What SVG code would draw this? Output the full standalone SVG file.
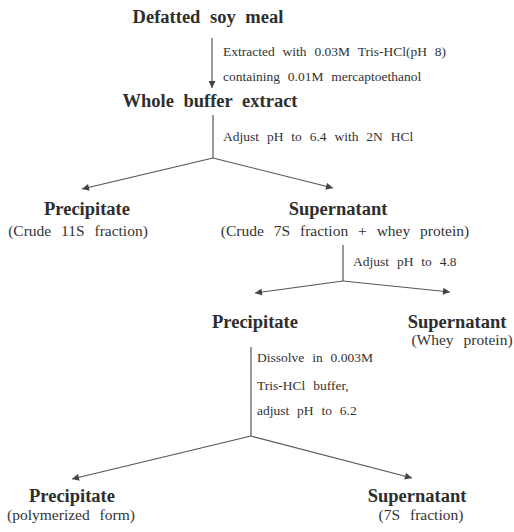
<svg xmlns="http://www.w3.org/2000/svg" width="514" height="532" viewBox="0 0 514 532">
<style>
.t{font-family:"Liberation Serif","Times New Roman",serif;font-weight:bold;font-size:18.5px;fill:#2e2e2e;text-anchor:middle;word-spacing:5px}
.s{font-family:"Liberation Serif","Times New Roman",serif;font-size:13.5px;fill:#333;word-spacing:4.5px}
.sub{font-family:"Liberation Serif","Times New Roman",serif;font-size:15.5px;fill:#333;word-spacing:6px;text-anchor:middle}
.c{stroke:#555;stroke-width:1.2;fill:none}
</style>
<defs>
<marker id="ah" viewBox="0 0 10 10" refX="10" refY="5" markerWidth="9" markerHeight="7" markerUnits="userSpaceOnUse" orient="auto">
<path d="M0,0 L10,5 L0,10 z" fill="#444"/>
</marker>
</defs>
<rect width="514" height="532" fill="#fff"/>
<g id="connectors">
<line class="c" x1="212" y1="38" x2="212" y2="88" marker-end="url(#ah)"/>
<polyline class="c" points="213,115 213,158"/>
<line class="c" x1="213" y1="158" x2="82" y2="189" marker-end="url(#ah)"/>
<line class="c" x1="213" y1="158" x2="333" y2="188" marker-end="url(#ah)"/>
<polyline class="c" points="343,245 343,281"/>
<line class="c" x1="343" y1="281" x2="255" y2="293" marker-end="url(#ah)"/>
<line class="c" x1="343" y1="281" x2="450" y2="292" marker-end="url(#ah)"/>
<polyline class="c" points="251,347 251,436"/>
<line class="c" x1="251" y1="436" x2="72" y2="479" marker-end="url(#ah)"/>
<line class="c" x1="251" y1="436" x2="412" y2="478" marker-end="url(#ah)"/>
</g>
<g id="labels">
<text class="s" x="223" y="56">Extracted with 0.03M Tris-HCl(pH 8)</text>
<text class="s" x="223" y="81">containing 0.01M mercaptoethanol</text>
<text class="s" x="223" y="141">Adjust pH to 6.4 with 2N HCl</text>
<text class="s" x="353" y="266">Adjust pH to 4.8</text>
<text class="s" x="257" y="362">Dissolve in 0.003M</text>
<text class="s" x="257" y="390">Tris-HCl buffer,</text>
<text class="s" x="257" y="415">adjust pH to 6.2</text>
</g>
<g id="n-defatted"><text class="t" x="208" y="23">Defatted soy meal</text></g>
<g id="n-whole"><text class="t" x="210" y="107">Whole buffer extract</text></g>
<g id="n-prec1"><text class="t" x="87" y="215">Precipitate</text><text class="sub" x="78" y="236">(Crude 11S fraction)</text></g>
<g id="n-sup1"><text class="t" x="338" y="215">Supernatant</text><text class="sub" x="345" y="236">(Crude 7S fraction + whey protein)</text></g>
<g id="n-prec2"><text class="t" x="255" y="328">Precipitate</text></g>
<g id="n-sup2"><text class="t" x="457" y="328">Supernatant</text><text class="sub" x="462" y="345">(Whey protein)</text></g>
<g id="n-prec3"><text class="t" x="72" y="502">Precipitate</text><text class="sub" x="71" y="520">(polymerized form)</text></g>
<g id="n-sup3"><text class="t" x="417" y="502">Supernatant</text><text class="sub" x="421" y="520">(7S fraction)</text></g>
</svg>
